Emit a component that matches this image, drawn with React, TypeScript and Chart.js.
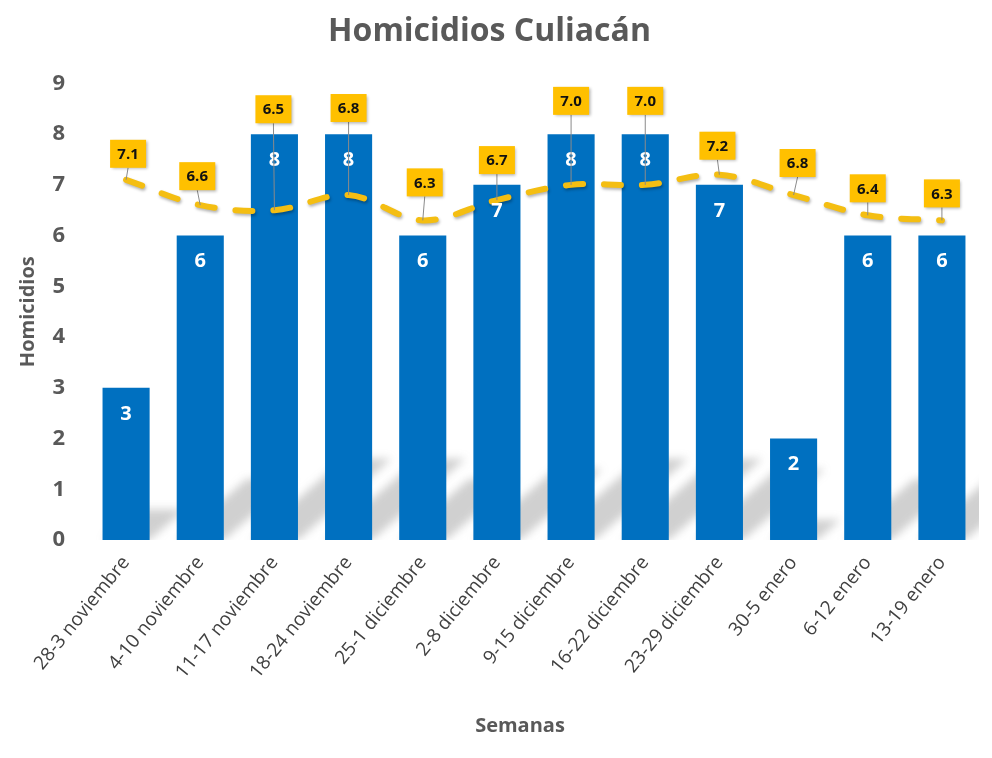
import { useEffect, useRef } from 'react';
import { Chart, registerables } from 'chart.js';

Chart.register(...registerables);

// Weekly homicide counts in Culiacán and the running daily average
const weeks = [
  '28-3 noviembre',
  '4-10 noviembre',
  '11-17 noviembre',
  '18-24 noviembre',
  '25-1 diciembre',
  '2-8 diciembre',
  '9-15 diciembre',
  '16-22 diciembre',
  '23-29 diciembre',
  '30-5 enero',
  '6-12 enero',
  '13-19 enero',
];
const homicides = [3, 6, 8, 8, 6, 7, 8, 8, 7, 2, 6, 6];
const average = [7.1, 6.6, 6.5, 6.8, 6.3, 6.7, 7.0, 7.0, 7.2, 6.8, 6.4, 6.3];
const yMax = 9;
const xAxisTitle = 'Semanas';

// Where each callout box sits relative to its line point (px)
const calloutShift: [number, number][] = [
  [2, -26], [-3, -29], [-1, -101], [0, -87], [2, -38], [0, -40],
  [0, -84], [0, -84], [-2, -29], [4, -32], [0, -27], [0, -27],
];

const FONT = '"Open Sans", "Noto Sans", sans-serif';
const BLUE = '#0070C0';
const GOLD = '#F4BE12';
const GRAY = '#595959';

const decorations = {
  id: 'decorations',
  beforeDatasetsDraw(chart: any) {
    const { ctx, chartArea } = chart;
    const meta = chart.getDatasetMeta(0);
    ctx.save();
    ctx.beginPath();
    ctx.rect(chartArea.left, chartArea.top, chartArea.right - chartArea.left, chartArea.bottom - chartArea.top);
    ctx.clip();
    ctx.filter = 'blur(4px)';
    ctx.fillStyle = 'rgba(100,100,100,0.30)';
    meta.data.forEach((bar: any) => {
      const { x, y, base, width } = bar.getProps(['x', 'y', 'base', 'width'], true);
      const h = (base - y) * 0.2;
      const dx = h * 1.15;
      const l = x - width / 2;
      const r = x + width / 2;
      ctx.beginPath();
      ctx.moveTo(l, base);
      ctx.lineTo(r, base);
      ctx.lineTo(r + dx, base - h);
      ctx.lineTo(l + dx, base - h);
      ctx.closePath();
      ctx.fill();
    });
    ctx.restore();
  },
  beforeDatasetDraw(chart: any, args: any) {
    if (args.index !== 1) return;
    const ctx = chart.ctx;
    ctx.save();
    ctx.shadowColor = 'rgba(0,0,0,0.3)';
    ctx.shadowBlur = 3;
    ctx.shadowOffsetX = 1;
    ctx.shadowOffsetY = 2;
  },
  afterDatasetDraw(chart: any, args: any) {
    if (args.index !== 1) return;
    chart.ctx.restore();
  },
  afterDatasetsDraw(chart: any) {
    const { ctx } = chart;
    const bars = chart.getDatasetMeta(0).data;
    const pts = chart.getDatasetMeta(1).data;

    // values inside the bars
    ctx.save();
    ctx.fillStyle = '#ffffff';
    ctx.font = `bold 20px ${FONT}`;
    ctx.textAlign = 'center';
    ctx.textBaseline = 'middle';
    bars.forEach((bar: any, i: number) => {
      ctx.fillText(String(homicides[i]), bar.x, bar.y + 26);
    });
    ctx.restore();

    // callouts for the average line
    pts.forEach((pt: any, i: number) => {
      const [dx, dy] = calloutShift[i];
      const cx = pt.x + dx;
      const cy = pt.y + dy;
      const w = 36;
      const h = 28;
      ctx.save();
      ctx.strokeStyle = '#8a8a8a';
      ctx.lineWidth = 1;
      ctx.beginPath();
      ctx.moveTo(cx, cy + h / 2);
      ctx.lineTo(pt.x, pt.y);
      ctx.stroke();
      ctx.shadowColor = 'rgba(0,0,0,0.3)';
      ctx.shadowBlur = 3;
      ctx.shadowOffsetX = 1.5;
      ctx.shadowOffsetY = 1.5;
      ctx.fillStyle = '#FFC000';
      ctx.fillRect(cx - w / 2, cy - h / 2, w, h);
      ctx.shadowColor = 'transparent';
      ctx.fillStyle = '#111111';
      ctx.font = `bold 15px ${FONT}`;
      ctx.textAlign = 'center';
      ctx.textBaseline = 'middle';
      ctx.fillText(average[i].toFixed(1), cx, cy + 1);
      ctx.restore();
    });

    // x axis title
    ctx.save();
    ctx.fillStyle = GRAY;
    ctx.font = `bold 20px ${FONT}`;
    ctx.textAlign = 'center';
    ctx.textBaseline = 'middle';
    ctx.fillText(xAxisTitle, 520, 726);
    ctx.restore();
  },
};

export default function App() {
  const canvasRef = useRef<HTMLCanvasElement | null>(null);

  useEffect(() => {
    if (!canvasRef.current) return;
    const chart = new Chart(canvasRef.current, {
      type: 'bar',
      data: {
        labels: weeks,
        datasets: [
          {
            type: 'bar',
            label: 'Homicidios',
            data: homicides,
            backgroundColor: BLUE,
            borderWidth: 0,
            categoryPercentage: 1,
            barPercentage: 0.635,
            order: 1,
          },
          {
            type: 'line',
            label: 'Promedio',
            data: average,
            borderColor: GOLD,
            borderWidth: 6,
            borderDash: [17, 21],
            borderCapStyle: 'round',
            tension: 0.35,
            pointRadius: 0,
            fill: false,
            order: 0,
          },
        ],
      },
      options: {
        animation: false,
        responsive: true,
        maintainAspectRatio: false,
        layout: { padding: { left: 0, right: 13, top: 0, bottom: 0 } },
        plugins: {
          legend: { display: false },
          tooltip: { enabled: false },
          title: {
            display: true,
            text: 'Homicidios Culiacán',
            color: GRAY,
            font: { family: FONT, size: 32, weight: 'bold' },
            padding: { top: 13, bottom: 32 },
          },
        },
        scales: {
          x: {
            grid: { display: false, drawTicks: false },
            border: { display: false },
            ticks: {
              color: '#404040',
              font: { family: FONT, size: 19 },
              minRotation: 51,
              maxRotation: 51,
              autoSkip: false,
              padding: 12,
            },
            afterFit(scale: any) {
              scale.height = 218;
            },
          },
          y: {
            min: 0,
            max: yMax,
            grid: { display: false, drawTicks: false },
            border: { display: false },
            ticks: {
              stepSize: 1,
              color: GRAY,
              font: { family: FONT, size: 22, weight: 'bold' },
              padding: 24,
            },
            title: {
              display: true,
              text: 'Homicidios',
              color: GRAY,
              font: { family: FONT, size: 20, weight: 'bold' },
              padding: { top: 16, bottom: 0 },
            },
            afterFit(scale: any) {
              scale.width = 89;
            },
          },
        },
      },
      plugins: [decorations],
    });
    return () => chart.destroy();
  }, []);

  return (
    <div style={{ position: 'fixed', left: 0, top: 0, width: '100vw', height: '100vh', background: '#ffffff' }}>
      <canvas ref={canvasRef} />
    </div>
  );
}
